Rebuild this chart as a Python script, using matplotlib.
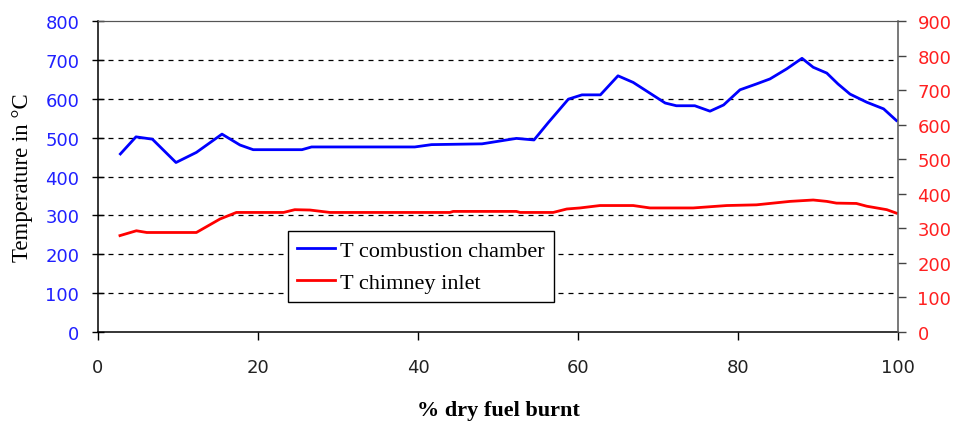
import numpy as np
import matplotlib.pyplot as plt

# % dry fuel burnt vs temperature
x_comb = [2.8, 4.75, 6.8, 9.75, 12.3, 15.5, 17.75, 19.4, 25.5, 26.7, 39.6, 41.7,
          48.0, 52.3, 54.5, 56.3, 58.8, 60.5, 62.8, 65.0, 66.9, 70.9, 72.3, 74.6,
          76.5, 78.2, 80.25, 82.3, 84.0, 86.1, 88.0, 89.4, 91.1, 92.5, 94.0, 96.1,
          98.2, 99.8]
t_comb = [458, 502, 496, 436, 462, 509, 481, 469, 469, 476, 476, 482,
          484, 498, 494, 539, 599, 610, 610, 659, 642, 589, 582, 582,
          568, 584, 623, 638, 651, 677, 704, 681, 666, 638, 612, 591,
          574, 544]

x_chim = [2.75, 4.8, 6.1, 12.3, 15.25, 17.3, 23.2, 24.6, 26.5, 29.0, 44.0, 44.4,
          52.3, 52.75, 56.9, 58.6, 60.25, 62.75, 66.9, 69.0, 74.4, 78.6, 82.3,
          84.4, 86.5, 89.4, 91.1, 92.3, 94.8, 96.1, 98.6, 99.8]
t_chim = [279, 293, 288, 288, 327, 346, 346, 354, 353, 346, 346, 349,
          349, 346, 346, 356, 359, 366, 366, 359, 359, 366, 368,
          373, 378, 382, 378, 373, 372, 364, 354, 344]

serif = ['Liberation Serif', 'DejaVu Serif']

fig, ax = plt.subplots(figsize=(9.54, 4.27), dpi=100)
fig.subplots_adjust(left=0.1027, right=0.9413, top=0.9485, bottom=0.2201)
ax2 = ax.twinx()

l1, = ax.plot(x_comb, t_comb, color='#0000ff', lw=2, label='T combustion chamber')
l2, = ax2.plot(x_chim, t_chim, color='#ff0000', lw=2, label='T chimney inlet')

ax.set_xlim(0, 100)
ax.set_ylim(0, 800)
ax2.set_ylim(0, 900)
ax.set_xticks(np.arange(0, 101, 20))
ax.set_yticks(np.arange(0, 801, 100))
ax2.set_yticks(np.arange(0, 901, 100))

for yv in range(100, 800, 100):
    ax.axhline(yv, color='black', lw=0.9, ls=(0, (4, 4)), zorder=0)

ax.tick_params(axis='y', colors='#2020ff', labelsize=13, direction='inout',
               length=9, width=1, pad=9)
ax.tick_params(axis='y', which='both', color='black')
ax.tick_params(axis='x', labelsize=13, labelcolor='#222222', direction='out',
               length=6, width=1, pad=13)
ax2.tick_params(axis='y', labelcolor='#ff2020', labelsize=13, direction='out',
                length=6, width=1, pad=8, color='#444444')

for sp in ['left', 'bottom']:
    ax.spines[sp].set_color('black')
    ax.spines[sp].set_linewidth(1.1)
ax.spines['top'].set_color('#555555')
ax.spines['right'].set_visible(False)
ax2.spines['left'].set_visible(False)
ax2.spines['top'].set_color('#555555')
ax2.spines['bottom'].set_visible(False)
ax2.spines['right'].set_color('#555555')
ax2.spines['right'].set_linewidth(1.1)

ax.set_xlabel('% dry fuel burnt', family=serif, fontsize=16, fontweight='bold',
              labelpad=17)
ax.set_ylabel('Temperature in °C', family=serif, fontsize=16.5, labelpad=9)

leg = ax.legend(handles=[l1, l2], loc='lower left', bbox_to_anchor=(0.237, 0.096),
                prop={'family': serif, 'size': 16}, frameon=True, fancybox=False,
                edgecolor='black', framealpha=1, handlelength=1.7,
                handletextpad=0.25, borderpad=0.42, labelspacing=0.5,
                borderaxespad=0)
leg.get_frame().set_linewidth(1)
leg.set_zorder(5)

fig.savefig('out.png', dpi=100)
